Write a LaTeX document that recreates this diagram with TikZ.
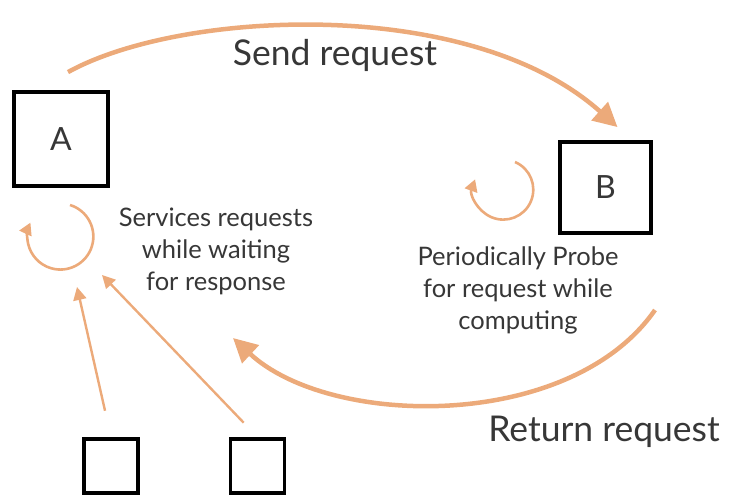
\documentclass[tikz,border=0pt]{standalone}
\usepackage{fontspec}
\setmainfont{Lato}
\usepackage{tikz}
\usetikzlibrary{arrows.meta, positioning}
\definecolor{peach}{RGB}{236,170,122}
\definecolor{inkgray}{RGB}{55,55,55}

\begin{document}
\begin{tikzpicture}[x=1pt, y=-1pt]
				
				\tikzset{procbox/.style={
						draw=black, line width=3.8pt,
						minimum size=#1, inner sep=0pt,
						text=inkgray, font=\fontsize{32}{32}\selectfont
					},
					procbox/.default=94pt,
					bigarc/.style={draw=peach, line width=4.5pt,
						-{Triangle[length=24pt, width=24pt]}},
					loop/.style={draw=peach, line width=2.6pt,
						-{Triangle[length=12pt, width=13pt]}},
					ptr/.style={draw=peach, line width=2.4pt,
						-{Triangle[length=13pt, width=13pt]}},
					note/.style={text=inkgray, align=center,
						font=\fontsize{25.5}{32}\selectfont},
					caption/.style={text=inkgray,
						font=\fontsize{35.5}{36}\selectfont}
				}
				
				\useasboundingbox (0,0) rectangle (729,498);
				
				% processes
				\node[procbox] (A) at (61,139) {A};
				\node[procbox=91pt] (B) at (605.5,187.5) {B};
				\node[procbox=54pt] (s1) at (111,466) {};
				\node[procbox=54pt] (s2) at (257.5,466) {};
				
				% labels
				\node[caption] (send) at (335,55) {Send request};
				\node[caption] (ret) at (604,432) {Return request};
				\node[note] (serv) at (216,251) {Services requests\\while waiting\\for response};
				\node[note] (probe) at (518,290) {Periodically Probe\\for request while\\computing};
				
				% send / return
				\draw[bigarc] ([xshift=7pt, yshift=18pt]A.north)
				.. controls (180,10) and (470,-5) .. ([xshift=12pt, yshift=13pt]B.north);
				\coordinate (retfrom) at (655,310);
				\coordinate (retto) at (233,338);
				\draw[bigarc] (retfrom) .. controls (570,432) and (330,428) .. (retto);
				
				% local loops
				\coordinate (loopA) at (70,205);
				\draw[loop] (loopA) arc[start angle=73, end angle=-205, radius=33pt];
				\coordinate (loopB) at (515,162);
				\draw[loop] (loopB) arc[start angle=67, end angle=-200, radius=30pt];
				
				% incoming requests
				\coordinate (in1) at (77,287);
				\coordinate (in2) at (102,275);
				\draw[ptr, shorten <=27pt] (s1.north) -- (in1);
				\draw[ptr, shorten <=20pt] (s2.north) -- (in2);
				
\end{tikzpicture}
\end{document}
